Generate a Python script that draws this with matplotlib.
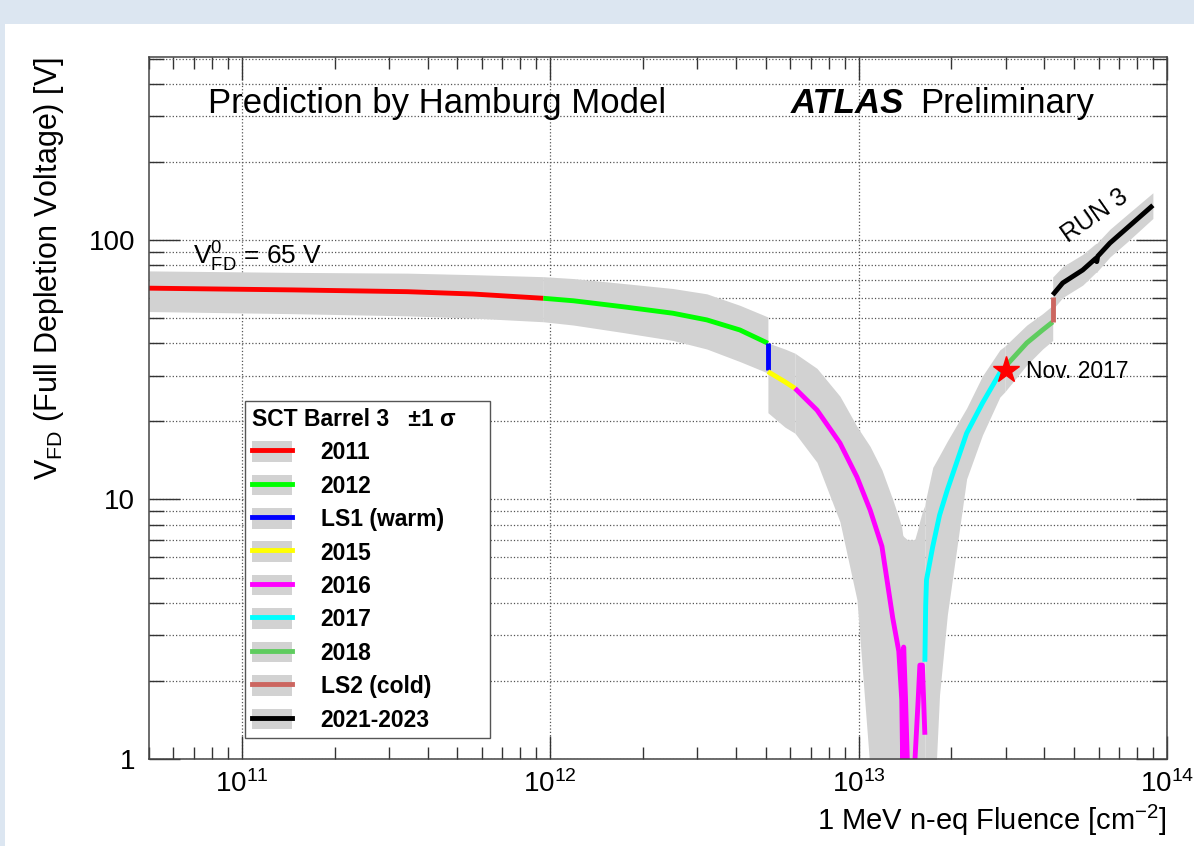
import numpy as np
import matplotlib
matplotlib.use("Agg")
import matplotlib.pyplot as plt
from matplotlib.patches import Patch, Rectangle
from matplotlib.lines import Line2D
from matplotlib.ticker import LogLocator, NullFormatter, FixedLocator, FixedFormatter

plt.rcParams['font.family'] = ['Liberation Sans', 'DejaVu Sans']
plt.rcParams['mathtext.fontset'] = 'custom'
plt.rcParams['mathtext.rm'] = 'Liberation Sans'
plt.rcParams['mathtext.it'] = 'Liberation Sans:italic'
plt.rcParams['mathtext.bf'] = 'Liberation Sans:bold'

# fluence [cm^-2], predicted V_FD [V], and the -1 sigma / +1 sigma band
f_2011 = [5.0e10, 1.47e11, 3.44e11, 5.62e11, 9.5e11]
v_2011 = [65.2, 64.2, 63.2, 61.9, 59.6]
lo_2011 = [53, 52, 51, 50, 48.4]
hi_2011 = [76, 75, 74.5, 73.5, 72.2]

f_2012 = [9.5e11, 1.19e12, 1.72e12, 2.5e12, 3.22e12, 4.12e12, 5.08e12]
v_2012 = [59.6, 58.3, 55.3, 52.2, 49.2, 45.0, 40.0]
lo_2012 = [48.4, 47, 44, 41, 38, 34, 30.7]
hi_2012 = [72.2, 71, 68, 65, 62, 56, 50.5]

f_ls1 = [5.08e12, 5.08e12]
v_ls1 = [40.0, 31.6]

f_2015 = [5.08e12, 5.77e12, 6.22e12]
v_2015 = [31.1, 28.4, 26.8]
lo_2015 = [21.6, 19, 18]
hi_2015 = [40.1, 38, 36.6]

f_2016 = [6.22e12, 7.33e12, 8.70e12, 9.88e12, 1.09e13, 1.19e13, 1.29e13, 1.35e13,
          1.38e13, 1.39e13, 1.40e13, 1.42e13, 1.44e13, 1.52e13, 1.56e13, 1.58e13,
          1.61e13, 1.64e13]
v_2016 = [26.8, 22.1, 16.5, 12.2, 9.1, 6.6, 3.5, 2.6,
          1.69, 0.95, 2.7, 1.69, 0.95, 0.95, 1.69, 2.3,
          2.3, 1.24]
lo_2016 = [18, 13.9, 8.2, 4.1, 0.9, 0.5, 0.5, 0.5,
           0.5, 0.5, 0.5, 0.5, 0.5, 0.5, 0.5, 0.5,
           0.5, 0.5]
hi_2016 = [36.6, 32, 25, 19.1, 16, 13, 10, 8.5,
           7.8, 7.3, 7.2, 7.1, 7.0, 7.0, 7.8, 8.3,
           9.0, 9.5]

f_2017 = [1.64e13, 1.65e13, 1.66e13, 1.74e13, 1.83e13, 1.94e13, 2.24e13, 2.52e13, 2.87e13, 2.98e13]
v_2017 = [2.37, 3.9, 4.9, 6.6, 8.7, 10.9, 18.0, 23.5, 30.7, 32.4]
lo_2017 = [0.5, 0.5, 0.5, 0.5, 1.77, 3.6, 12, 17.7, 24.8, 26]
hi_2017 = [9.5, 10, 10.3, 13.3, 14.8, 16.8, 22.5, 29.9, 37.7, 39]

f_2018 = [2.98e13, 3.51e13, 3.95e13, 4.26e13]
v_2018 = [32.4, 40.1, 45.0, 48.3]
lo_2018 = [26, 33, 38, 41]
hi_2018 = [39, 47, 52, 56]

f_ls2 = [4.26e13, 4.26e13]
v_ls2 = [48.3, 60.3]

f_run3 = [4.26e13, 4.59e13, 5.33e13, 5.88e13, 5.92e13, 5.96e13, 6.53e13, 7.41e13, 9.0e13]
v_run3 = [61.4, 68.3, 76.6, 85.0, 82.5, 86.5, 97.3, 111, 136]
lo_run3 = [54, 60, 67, 75, 75, 76, 86, 98, 121]
hi_run3 = [72, 79, 88, 97, 97, 98, 110, 125, 152]

nov2017_f = 3.0e13
nov2017_v = 31.5

labels = ['2011', '2012', 'LS1 (warm)', '2015', '2016', '2017', '2018', 'LS2 (cold)', '2021-2023']
colors = ['#ff0000', '#00ff00', '#0000ff', '#ffff00', '#ff00ff', '#00ffff', '#5fcc5f', '#cc6660', '#000000']

band_color = '#d2d2d2'

fig = plt.figure(figsize=(11.94, 8.46), dpi=100, facecolor='#dce6f1')
fig.patches.append(Rectangle((5 / 1194, 0), 1, 1 - 24 / 846, transform=fig.transFigure,
                             facecolor='white', edgecolor='none', zorder=-10))
ax = fig.add_axes([149 / 1194, 1 - 759 / 846, (1167 - 149) / 1194, (759 - 57) / 846])
ax.set_xscale('log')
ax.set_yscale('log')
ax.set_xlim(5e10, 1e14)
ax.set_ylim(1, 507)

# uncertainty bands
bands = [(f_2011, lo_2011, hi_2011), (f_2012, lo_2012, hi_2012), (f_2015, lo_2015, hi_2015),
         (f_2016, lo_2016, hi_2016), (f_2017, lo_2017, hi_2017), (f_2018, lo_2018, hi_2018),
         (f_run3, lo_run3, hi_run3)]
for f, lo, hi in bands:
    ax.fill_between(f, lo, hi, color=band_color, lw=0, zorder=2)

curves = [(f_2011, v_2011), (f_2012, v_2012), (f_ls1, v_ls1), (f_2015, v_2015), (f_2016, v_2016),
          (f_2017, v_2017), (f_2018, v_2018), (f_ls2, v_ls2), (f_run3, v_run3)]
for (f, v), c in zip(curves, colors):
    ax.plot(f, v, color=c, lw=3.5, solid_capstyle='butt', zorder=4)

ax.plot(nov2017_f, nov2017_v, marker='*', color='red', markersize=20, zorder=5)
ax.text(3.5e13, 31, 'Nov. 2017', fontsize=16.5, va='center', zorder=6)
ax.text(5.85e13, 124, 'RUN 3', fontsize=18, rotation=35, ha='center', va='center',
        rotation_mode='anchor', zorder=6)

# grid and ticks
ax.xaxis.set_major_locator(LogLocator(base=10, numticks=10))
ax.xaxis.set_minor_locator(LogLocator(base=10, subs=np.arange(2, 10), numticks=20))
ax.xaxis.set_minor_formatter(NullFormatter())
ax.yaxis.set_major_locator(FixedLocator([1, 10, 100]))
ax.yaxis.set_major_formatter(FixedFormatter(['1', '10', '100']))
ax.yaxis.set_minor_locator(LogLocator(base=10, subs=np.arange(2, 10), numticks=20))
ax.yaxis.set_minor_formatter(NullFormatter())

ax.grid(True, which='major', axis='x', ls=':', lw=0.9, color='#555555', zorder=1)
ax.grid(True, which='both', axis='y', ls=':', lw=0.9, color='#555555', zorder=1)
ax.set_axisbelow(True)

ax.tick_params(axis='both', which='both', direction='in', top=True, right=True,
               width=1, color='#333333', labelsize=20)
ax.tick_params(axis='x', which='major', length=16.5, pad=8)
ax.tick_params(axis='x', which='minor', length=8.6)
ax.tick_params(axis='y', which='major', length=22, pad=10)
ax.tick_params(axis='y', which='minor', length=10.8)
for s in ax.spines.values():
    s.set_color('#444444')
    s.set_linewidth(1.1)
    s.set_zorder(7)

ax.set_xlabel(r'1 MeV n-eq Fluence [cm$^{-2}$]', fontsize=21, loc='right')
ax.xaxis.set_label_coords(1.0, -0.062)
ax.set_ylabel(r'V$_{\rm FD}$ (Full Depletion Voltage) [V]', fontsize=22, loc='top')
ax.yaxis.set_label_coords(-0.082, 1.0)

ax.text(0.058, 0.934, 'Prediction by Hamburg Model', transform=ax.transAxes, fontsize=25, va='center')
ax.text(0.630, 0.934, 'ATLAS', transform=ax.transAxes, fontsize=25, va='center',
        fontweight='bold', fontstyle='italic')
ax.text(0.757, 0.934, 'Preliminary', transform=ax.transAxes, fontsize=25, va='center')
ax.text(0.043, 0.715, r'V$_{\rm FD}^{0}$ = 65 V', transform=ax.transAxes, fontsize=19, va='center')

handles = [(Patch(facecolor=band_color, edgecolor='none'), Line2D([], [], color=c, lw=3.5))
           for c in colors]
leg = ax.legend(handles, labels, loc='upper left', bbox_to_anchor=(0.0943, 0.037, 0.2407, 0.473),
                mode='expand',
                title='SCT Barrel 3   \u00b11 \u03c3', alignment='left',
                prop={'weight': 'bold', 'size': 16.5},
                title_fontproperties={'weight': 'bold', 'size': 16.5},
                fancybox=False, framealpha=1, edgecolor='#555555',
                handlelength=1.75, handleheight=1.0, handletextpad=1.25,
                labelspacing=0.45, borderpad=0.3, borderaxespad=0)
leg.get_frame().set_linewidth(1.0)
leg.set_zorder(8)

fig.savefig('out.png', dpi=100, facecolor=fig.get_facecolor())
